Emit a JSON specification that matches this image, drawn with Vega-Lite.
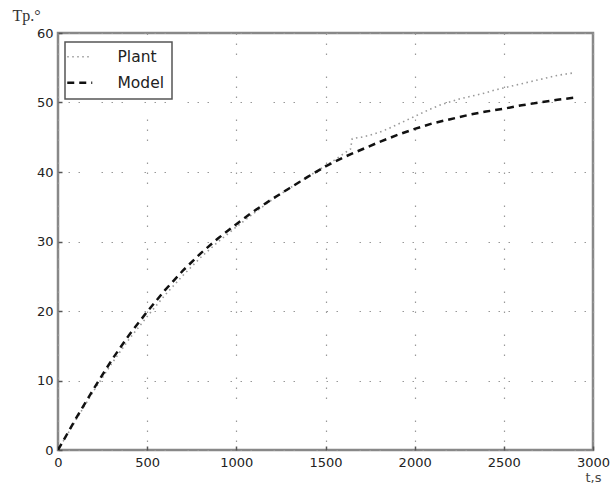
{
  "$schema": "https://vega.github.io/schema/vega-lite/v6.json",
  "width": 535,
  "height": 417,
  "autosize": {"type": "none"},
  "padding": {"left": 58, "top": 33, "right": 21, "bottom": 36},
  "background": "white",
  "config": {
    "view": {"stroke": "#888", "strokeWidth": 2.5},
    "font": "DejaVu Sans",
    "axis": {"gridDash": [1.5, 8.5, 1.5, 8.5, 1.5, 21.5]}
  },
  "data": {
    "values": [
      {"t": 0, "T": 0, "series": "Plant"},
      {"t": 100, "T": 4.3, "series": "Plant"},
      {"t": 200, "T": 8.5, "series": "Plant"},
      {"t": 300, "T": 12.4, "series": "Plant"},
      {"t": 400, "T": 16.0, "series": "Plant"},
      {"t": 500, "T": 19.2, "series": "Plant"},
      {"t": 600, "T": 22.3, "series": "Plant"},
      {"t": 700, "T": 25.1, "series": "Plant"},
      {"t": 800, "T": 27.7, "series": "Plant"},
      {"t": 900, "T": 30.0, "series": "Plant"},
      {"t": 1000, "T": 32.1, "series": "Plant"},
      {"t": 1100, "T": 34.1, "series": "Plant"},
      {"t": 1200, "T": 36.0, "series": "Plant"},
      {"t": 1300, "T": 37.7, "series": "Plant"},
      {"t": 1400, "T": 39.3, "series": "Plant"},
      {"t": 1500, "T": 40.9, "series": "Plant"},
      {"t": 1550, "T": 41.7, "series": "Plant"},
      {"t": 1600, "T": 42.6, "series": "Plant"},
      {"t": 1640, "T": 43.3, "series": "Plant"},
      {"t": 1650, "T": 44.8, "series": "Plant"},
      {"t": 1700, "T": 45.0, "series": "Plant"},
      {"t": 1750, "T": 45.3, "series": "Plant"},
      {"t": 1800, "T": 45.7, "series": "Plant"},
      {"t": 1850, "T": 46.2, "series": "Plant"},
      {"t": 1900, "T": 46.8, "series": "Plant"},
      {"t": 1950, "T": 47.4, "series": "Plant"},
      {"t": 2000, "T": 48.0, "series": "Plant"},
      {"t": 2050, "T": 48.6, "series": "Plant"},
      {"t": 2100, "T": 49.2, "series": "Plant"},
      {"t": 2150, "T": 49.7, "series": "Plant"},
      {"t": 2200, "T": 50.1, "series": "Plant"},
      {"t": 2250, "T": 50.5, "series": "Plant"},
      {"t": 2300, "T": 50.8, "series": "Plant"},
      {"t": 2350, "T": 51.1, "series": "Plant"},
      {"t": 2400, "T": 51.4, "series": "Plant"},
      {"t": 2450, "T": 51.8, "series": "Plant"},
      {"t": 2500, "T": 52.1, "series": "Plant"},
      {"t": 2550, "T": 52.4, "series": "Plant"},
      {"t": 2600, "T": 52.7, "series": "Plant"},
      {"t": 2650, "T": 53.0, "series": "Plant"},
      {"t": 2700, "T": 53.3, "series": "Plant"},
      {"t": 2750, "T": 53.6, "series": "Plant"},
      {"t": 2800, "T": 53.9, "series": "Plant"},
      {"t": 2850, "T": 54.1, "series": "Plant"},
      {"t": 2900, "T": 54.3, "series": "Plant"},
      {"t": 0, "T": 0, "series": "Model"},
      {"t": 100, "T": 4.5, "series": "Model"},
      {"t": 200, "T": 8.8, "series": "Model"},
      {"t": 300, "T": 12.9, "series": "Model"},
      {"t": 400, "T": 16.6, "series": "Model"},
      {"t": 500, "T": 19.9, "series": "Model"},
      {"t": 600, "T": 23.0, "series": "Model"},
      {"t": 700, "T": 25.8, "series": "Model"},
      {"t": 800, "T": 28.3, "series": "Model"},
      {"t": 900, "T": 30.5, "series": "Model"},
      {"t": 1000, "T": 32.5, "series": "Model"},
      {"t": 1100, "T": 34.4, "series": "Model"},
      {"t": 1200, "T": 36.1, "series": "Model"},
      {"t": 1300, "T": 37.7, "series": "Model"},
      {"t": 1400, "T": 39.3, "series": "Model"},
      {"t": 1500, "T": 40.8, "series": "Model"},
      {"t": 1600, "T": 42.1, "series": "Model"},
      {"t": 1700, "T": 43.2, "series": "Model"},
      {"t": 1800, "T": 44.3, "series": "Model"},
      {"t": 1900, "T": 45.3, "series": "Model"},
      {"t": 2000, "T": 46.2, "series": "Model"},
      {"t": 2100, "T": 47.0, "series": "Model"},
      {"t": 2200, "T": 47.6, "series": "Model"},
      {"t": 2300, "T": 48.2, "series": "Model"},
      {"t": 2400, "T": 48.7, "series": "Model"},
      {"t": 2500, "T": 49.1, "series": "Model"},
      {"t": 2600, "T": 49.6, "series": "Model"},
      {"t": 2700, "T": 50.0, "series": "Model"},
      {"t": 2800, "T": 50.4, "series": "Model"},
      {"t": 2900, "T": 50.7, "series": "Model"}
    ]
  },
  "encoding": {
    "x": {
      "field": "t",
      "type": "quantitative",
      "scale": {"domain": [0, 3000], "nice": false, "zero": false},
      "axis": {
        "values": [0, 500, 1000, 1500, 2000, 2500, 3000],
        "format": "d",
        "domain": false,
        "grid": true,
        "gridColor": "#999",
        "gridWidth": 1.2,
        "ticks": true,
        "tickSize": -4,
        "tickColor": "#555",
        "tickWidth": 1.5,
        "labelPadding": 10,
        "labelFontSize": 13,
        "labelColor": "#222",
        "labelFlush": false,
        "title": "t,s",
        "titleFont": "DejaVu Sans",
        "titleFontSize": 13,
        "titleFontWeight": "normal",
        "titleColor": "#444",
        "titleAngle": 0,
        "titleAlign": "left",
        "titleBaseline": "alphabetic",
        "titleX": 527,
        "titleY": 31
      }
    },
    "y": {
      "field": "T",
      "type": "quantitative",
      "scale": {"domain": [0, 60], "nice": false},
      "axis": {
        "values": [0, 10, 20, 30, 40, 50, 60],
        "format": "d",
        "domain": false,
        "grid": true,
        "gridColor": "#999",
        "gridWidth": 1.2,
        "ticks": true,
        "tickSize": -4,
        "tickColor": "#555",
        "tickWidth": 1.5,
        "labelPadding": 9,
        "labelFontSize": 13,
        "labelColor": "#222",
        "labelFlush": false,
        "title": "Tp.°",
        "titleFont": "Liberation Serif",
        "titleFontSize": 16,
        "titleFontWeight": "normal",
        "titleColor": "#333",
        "titleAngle": 0,
        "titleAlign": "left",
        "titleBaseline": "top",
        "titleX": -46,
        "titleY": -26
      }
    },
    "color": {
      "field": "series",
      "type": "nominal",
      "scale": {"domain": ["Plant", "Model"], "range": ["#999", "#111"]},
      "legend": {
        "title": null,
        "orient": "none",
        "legendX": 7,
        "legendY": 9,
        "strokeColor": "#555",
        "fillColor": "white",
        "padding": 7,
        "rowPadding": 9,
        "symbolType": "stroke",
        "symbolSize": 625,
        "labelOffset": 30,
        "labelFontSize": 15.5,
        "labelColor": "#222",
        "labelFont": "DejaVu Sans",
        "zindex": 5,
        "encode": {
          "legend": {"update": {"strokeWidth": {"value": 1.5}}},
          "symbols": {
            "update": {
              "strokeDash": {"signal": "datum.value === 'Plant' ? [1.5, 3.5] : [7, 5]"},
              "strokeWidth": {"signal": "datum.value === 'Plant' ? 1.6 : 2.5"}
            }
          }
        }
      }
    }
  },
  "layer": [
    {
      "transform": [{"filter": "datum.series === 'Plant'"}],
      "mark": {"type": "line", "clip": true, "strokeDash": [1.5, 3.5], "strokeWidth": 1.6}
    },
    {
      "transform": [{"filter": "datum.series === 'Model'"}],
      "mark": {"type": "line", "clip": true, "strokeDash": [7, 5], "strokeWidth": 2.5}
    }
  ]
}
